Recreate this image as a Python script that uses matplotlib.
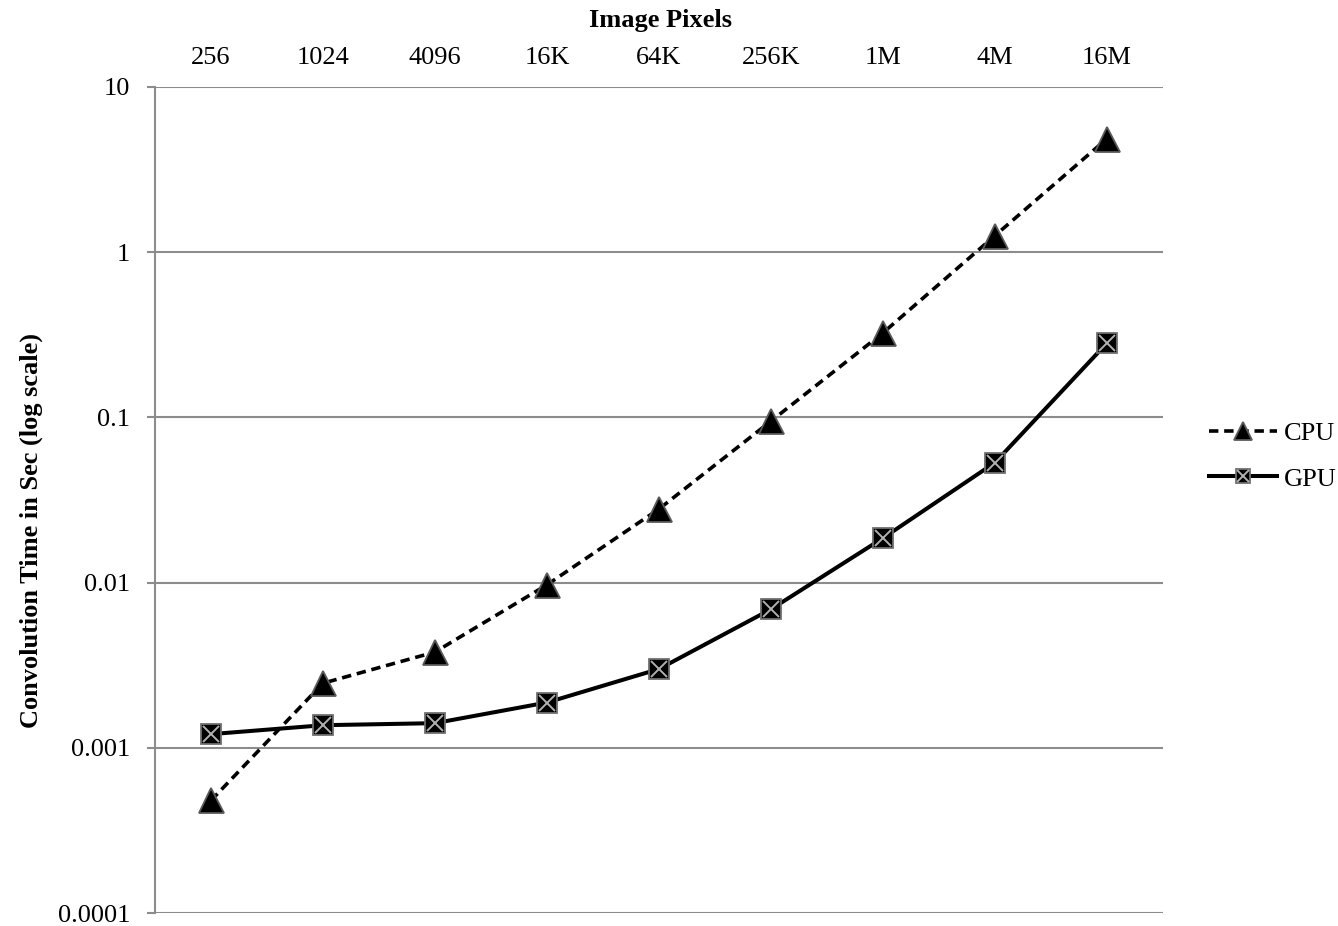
import matplotlib
matplotlib.use("Agg")
from matplotlib import pyplot as plt
from matplotlib.legend_handler import HandlerTuple

# 数据
pixels = ["256", "1024", "4096", "16K", "64K", "256K", "1M", "4M", "16M"]
cpu_time = [0.00048, 0.00246, 0.0038, 0.0097, 0.0279, 0.095, 0.325, 1.26, 4.87]
gpu_time = [0.00121, 0.00137, 0.00141, 0.00188, 0.0030, 0.0069, 0.0186, 0.0533, 0.282]
y_ticks = [0.0001, 0.001, 0.01, 0.1, 1, 10]
y_labels = ["0.0001", "0.001", "0.01", "0.1", "1", "10"]

plt.rcParams['font.family'] = ['Liberation Serif', 'DejaVu Serif']
fs = 19

fig = plt.figure(figsize=(13.38, 9.26), dpi=100)
ax = fig.add_axes([155 / 1338, 1 - 913 / 926, 1008 / 1338, 826 / 926])

x = list(range(len(pixels)))
grey = '#8c8c8c'

# CPU 虚线 + 三角
cpu_line, = ax.plot(x, cpu_time, color='black', linewidth=2.6, linestyle=(0, (2.6, 1.6)),
                    marker='^', markersize=18, markerfacecolor='black',
                    markeredgecolor='#5a5a5a', markeredgewidth=1.3, label='CPU', zorder=3)
# GPU 实线 + 方块叉
gpu_line, = ax.plot(x, gpu_time, color='black', linewidth=2.9,
                    marker='s', markersize=14, markerfacecolor='black',
                    markeredgecolor='#707070', markeredgewidth=1.3, label='GPU', zorder=4)
gpu_x, = ax.plot(x, gpu_time, linestyle='none', marker='x', markersize=12,
                 markeredgecolor='#b0b0b0', markeredgewidth=1.4, zorder=5)

ax.set_yscale('log')
ax.set_ylim(0.0001, 10)
ax.set_xlim(-0.5, len(pixels) - 0.5)
ax.set_yticks(y_ticks)
ax.set_yticklabels(y_labels)
ax.minorticks_off()

ax.xaxis.tick_top()
ax.xaxis.set_label_position('top')
ax.set_xticks(x)
ax.set_xticklabels(pixels)
ax.tick_params(axis='x', length=0, pad=13, labelsize=fs)
ax.tick_params(axis='y', length=6, width=1.5, color=grey, pad=12, labelsize=fs)

# 网格
ax.grid(axis='y', color=grey, linewidth=1.5)
ax.set_axisbelow(True)
for s in ['top', 'right', 'bottom']:
    ax.spines[s].set_visible(False)
ax.spines['left'].set_color(grey)
ax.spines['left'].set_linewidth(1.5)

ax.set_xlabel("Image Pixels", fontsize=fs, fontweight='bold', va='center')
ax.xaxis.set_label_coords(0.501, (913 - 21) / 826)
ax.set_ylabel("Convolution Time in Sec (log scale)", fontsize=fs, fontweight='bold', va='center')
ax.yaxis.set_label_coords(-124 / 1008, (913 - 530) / 826)

ax.legend([cpu_line, (gpu_line, gpu_x)], ['CPU', 'GPU'],
          handler_map={tuple: HandlerTuple(ndivide=1)},
          loc='center left', bbox_to_anchor=(1.035, (913 - 456) / 826), frameon=False,
          fontsize=fs, markerscale=0.7, handlelength=2.6, handletextpad=0.25,
          labelspacing=0.85, borderaxespad=0)

plt.savefig('out.png', dpi=100)
